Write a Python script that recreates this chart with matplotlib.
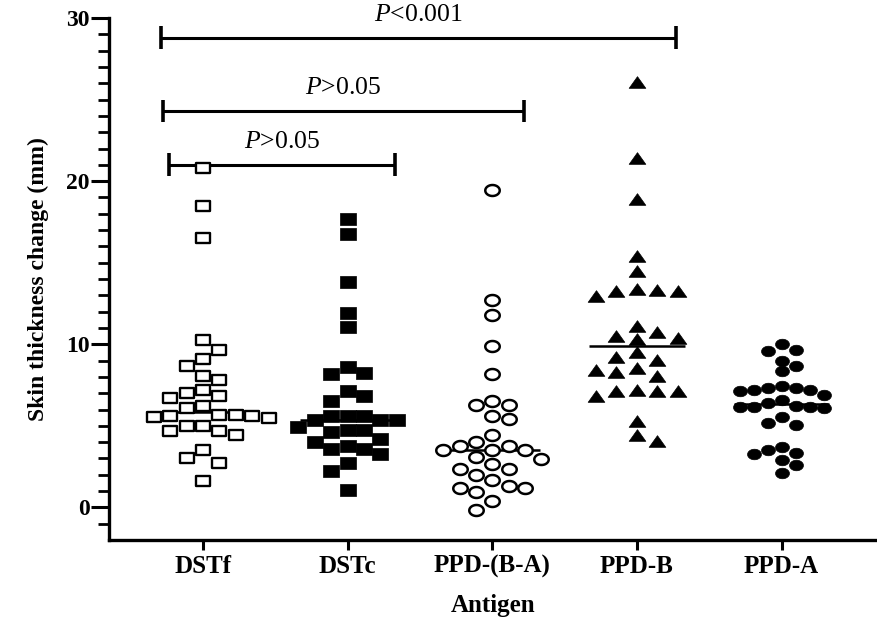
import numpy as np
import matplotlib
matplotlib.use('Agg')
import matplotlib.pyplot as plt
from matplotlib.path import Path
from matplotlib.ticker import FixedLocator

# ---------------- data ----------------
categories = ['DSTf', 'DSTc', 'PPD-(B-A)', 'PPD-B', 'PPD-A']

dstf = [20.78, 18.5, 16.5, 10.23, 9.67, 9.1, 8.65, 8.08, 7.83, 7.02, 7.18, 6.81,
        6.71, 6.24, 6.1, 5.58, 5.58, 5.65, 5.52, 5.65, 5.48, 5.01, 4.66, 4.46,
        4.7, 5.01, 3.5, 3.03, 2.72, 1.6]
dstc = [17.7, 16.77, 13.8, 11.93, 11.05, 8.6, 8.18, 8.24, 7.16, 6.85, 6.5, 5.63,
        5.63, 5.63, 5.34, 5.38, 5.38, 4.77, 4.91, 4.6, 4.77, 4.2, 4.01, 3.74,
        3.58, 3.29, 3.58, 2.72, 2.21, 1.09]
ppd_ba = [19.45, 12.74, 11.78, 9.88, 8.2, 6.26, 6.26, 6.55, 5.42, 5.58, 3.99,
          4.42, 3.5, 3.79, 3.54, 3.74, 3.54, 3.09, 2.97, 2.68, 2.36, 2.36, 2.0,
          1.66, 1.19, 0.92, 1.19, 1.33, 0.37, -0.14]
ppd_b = [26.1, 21.4, 18.9, 15.4, 14.5, 13.25, 13.36, 12.95, 13.3, 13.25, 11.1,
         10.74, 10.53, 10.33, 10.4, 9.5, 9.06, 9.2, 8.55, 8.3, 8.45, 8.04, 7.16,
         7.22, 6.81, 7.12, 7.16, 5.28, 4.46, 4.05]
ppd_a = [10.04, 9.63, 9.57, 9.0, 8.65, 8.34, 7.22, 7.22, 7.12, 7.47, 7.32, 7.32,
         6.91, 6.6, 6.24, 6.16, 6.16, 6.1, 6.16, 6.4, 5.52, 5.07, 5.18, 3.34,
         3.7, 3.54, 3.27, 2.93, 2.62, 2.11]
groups = [dstf, dstc, ppd_ba, ppd_b, ppd_a]

# significance annotations (bracket start, end, height, label)
bracket_x0 = [-0.29, -0.276, -0.235]
bracket_x1 = [3.27, 2.22, 1.33]
bracket_y = [28.8, 24.3, 21.0]
bracket_labels = ['<0.001', '>0.05', '>0.05']

# ---------------- styles ----------------
plt.rcParams['font.family'] = ['Liberation Serif', 'DejaVu Serif']
plt.rcParams['mathtext.fontset'] = 'custom'
plt.rcParams['mathtext.it'] = 'Liberation Serif:italic'
plt.rcParams['mathtext.rm'] = 'Liberation Serif'

rect = Path([(-1, -0.74), (1, -0.74), (1, 0.74), (-1, 0.74), (-1, -0.74)],
            [Path.MOVETO, Path.LINETO, Path.LINETO, Path.LINETO, Path.CLOSEPOLY])
th = np.linspace(0, 2 * np.pi, 61)
ellipse = Path(np.column_stack([np.cos(th), 0.76 * np.sin(th)]), closed=True)
tri = Path([(-1, -0.7), (1, -0.7), (0, 0.7), (-1, -0.7)],
           [Path.MOVETO, Path.LINETO, Path.LINETO, Path.CLOSEPOLY])

styles = [
    dict(marker=rect, ms=10.0, mfc='white', mec='black', mew=1.7),
    dict(marker=rect, ms=11.0, mfc='black', mec='black', mew=0.5),
    dict(marker=ellipse, ms=10.4, mfc='white', mec='black', mew=1.8),
    dict(marker=tri, ms=12.0, mfc='black', mec='black', mew=0.5),
    dict(marker=ellipse, ms=10.0, mfc='black', mec='black', mew=0.5),
]
# swarm spacing in pixels (column width, vertical collision height)
swarm_w = [16.4, 16.4, 16.3, 20.5, 14.0]
swarm_h = [13.0, 12.5, 13.5, 12.5, 10.5]

fig = plt.figure(figsize=(8.77, 6.27), dpi=100)
ax = fig.add_axes([109 / 877, 87 / 627, 1 - 109 / 877, (540 - 18) / 627])
ax.set_xlim(-0.65, 4.66)
ax.set_ylim(-2, 30)

p0 = ax.transData.transform((0, 0))
ppx = ax.transData.transform((1, 0))[0] - p0[0]
ppy = ax.transData.transform((0, 1))[1] - p0[1]


def swarm(vals, w, h):
    vals = np.asarray(vals, float)
    order = np.argsort(-vals)
    xs = np.zeros(len(vals))
    placed = []
    flip = 1
    for i in order:
        y = vals[i] * ppy
        chosen = None
        for k in range(0, 12):
            cands = [0.0] if k == 0 else [flip * k * w, -flip * k * w]
            for cx in cands:
                ok = True
                for (px, py) in placed:
                    if abs(cx - px) < w * 0.98 and abs(y - py) < h:
                        ok = False
                        break
                if ok:
                    chosen = cx
                    break
            if chosen is not None:
                if chosen != 0:
                    flip = -flip
                break
        xs[i] = chosen
        placed.append((chosen, y))
    return xs / ppx


for gi, (vals, st) in enumerate(zip(groups, styles)):
    offs = swarm(vals, swarm_w[gi], swarm_h[gi])
    ax.plot(gi + offs, vals, linestyle='none', clip_on=False, zorder=3, **st)
    med = np.median(vals)
    ax.plot([gi - 0.33, gi + 0.33], [med, med], color='black', lw=1.8, zorder=2,
            solid_capstyle='butt')

# significance brackets
for x0, x1, y, lab in zip(bracket_x0, bracket_x1, bracket_y, bracket_labels):
    ax.plot([x0, x1], [y, y], color='black', lw=2.2, solid_capstyle='butt', clip_on=False)
    for xe in (x0, x1):
        ax.plot([xe, xe], [y - 0.7, y + 0.7], color='black', lw=2.6,
                solid_capstyle='butt', clip_on=False)
    ax.text((x0 + x1) / 2, y + 1.4, r'$P$' + lab, ha='center', va='center',
            fontsize=18.5, clip_on=False)

# axes styling
for s in ('top', 'right'):
    ax.spines[s].set_visible(False)
for s in ('left', 'bottom'):
    ax.spines[s].set_linewidth(2.4)
ax.spines['left'].set_bounds(-2, 30)

ax.set_xticks(range(len(categories)))
ax.set_xticklabels(categories, fontsize=18, fontweight='bold')
ax.set_yticks([0, 10, 20, 30])
ax.set_yticklabels(['0', '10', '20', '30'], fontsize=17, fontweight='bold')
ax.yaxis.set_minor_locator(FixedLocator([v for v in range(-1, 30) if v % 10 != 0]))
ax.tick_params(axis='x', direction='out', length=7, width=2.2, pad=4)
ax.tick_params(axis='y', which='major', direction='out', length=13, width=2.2, pad=1)
ax.tick_params(axis='y', which='minor', direction='out', length=8, width=2.0)

ax.set_xlabel('Antigen', fontsize=18, fontweight='bold', labelpad=11)
ax.set_ylabel('Skin thickness change (mm)', fontsize=17, fontweight='bold', labelpad=12)

fig.savefig('out.png', dpi=100, facecolor='white')
